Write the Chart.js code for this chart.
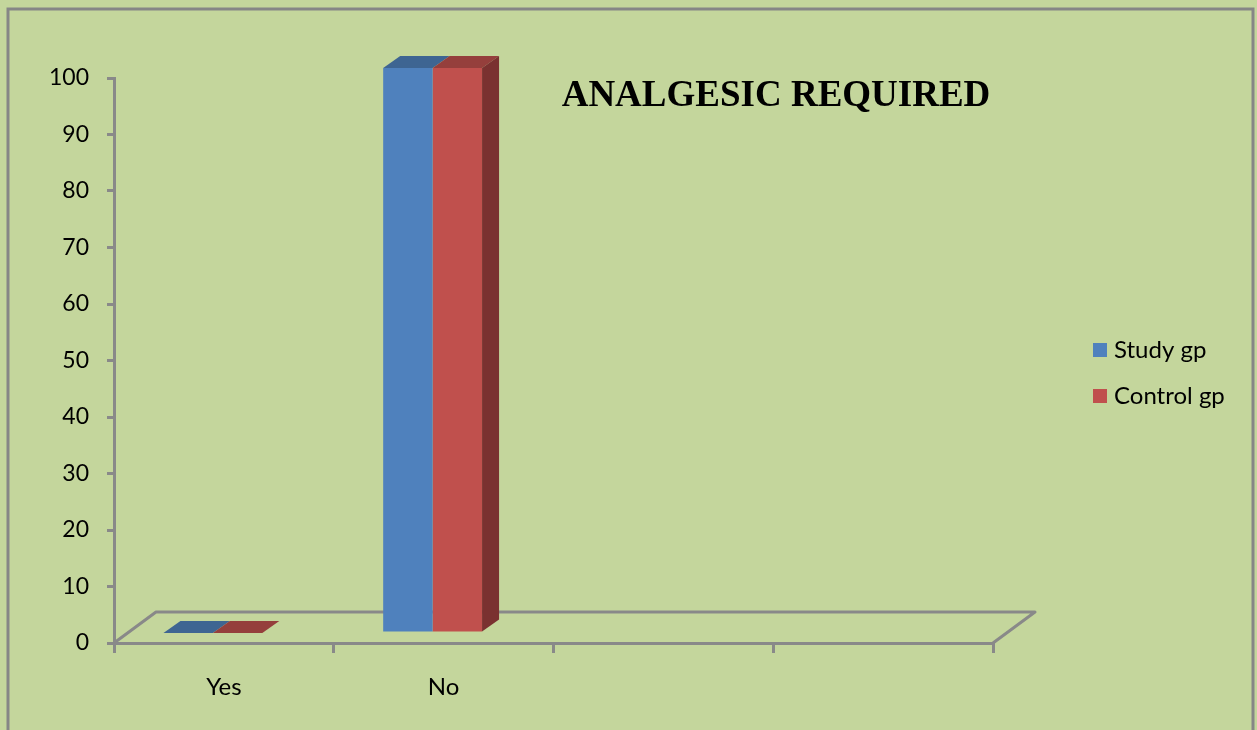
<!DOCTYPE html>
<html>
<head>
<meta charset="utf-8">
<script src="https://cdn.jsdelivr.net/npm/chart.js@4.4.1/dist/chart.umd.min.js"></script>
<style>
  html, body { margin: 0; padding: 0; background: #fff; }
  #wrap { width: 1257px; height: 730px; }
</style>
</head>
<body>
<div id="wrap"><canvas id="myChart" width="1257" height="730"></canvas></div>
<script>
// analgesic required, study vs control group
var categories = ['Yes', 'No', '', ''];
var studyGp = [0, 100, null, null];
var controlGp = [0, 100, null, null];
var seriesNames = ['Study gp', 'Control gp'];
var frontColors = ['#4F81BD', '#C0504D'];
var topColors = ['#3E6592', '#953F3C'];
var sideColor = '#7A3130';

var gray = '#898989';
var bg = '#C4D69C';

// bars sit a bit inside the floor, and have some depth
var barShift = { x: -11, y: -10 };
var depth = { x: 17, y: -12 };
var floorDepth = { x: 42, y: -31 };

var fake3d = {
  id: 'fake3d',
  beforeDraw: function (chart) {
    var ctx = chart.ctx;
    ctx.save();
    ctx.fillStyle = bg;
    ctx.fillRect(0, 0, chart.width, chart.height);
    ctx.strokeStyle = '#868686';
    ctx.lineWidth = 3;
    ctx.strokeRect(8, 9, 1245, 760);
    ctx.restore();
  },
  beforeDatasetsDraw: function (chart) {
    var ctx = chart.ctx;
    var a = chart.chartArea;
    ctx.save();
    ctx.strokeStyle = gray;
    ctx.lineWidth = 3;
    ctx.lineJoin = 'round';
    ctx.beginPath();
    ctx.moveTo(a.left, a.bottom);
    ctx.lineTo(a.left + floorDepth.x, a.bottom + floorDepth.y);
    ctx.lineTo(a.right + floorDepth.x, a.bottom + floorDepth.y);
    ctx.lineTo(a.right, a.bottom);
    ctx.stroke();
    ctx.restore();

    ctx.save();
    ctx.translate(barShift.x, barShift.y);
  },
  afterDatasetsDraw: function (chart) {
    var ctx = chart.ctx;
    var n = chart.data.datasets.length;
    for (var d = 0; d < n; d++) {
      var meta = chart.getDatasetMeta(d);
      var vals = chart.data.datasets[d].data;
      meta.data.forEach(function (el, i) {
        if (vals[i] === null) return;
        var x0 = el.x - el.width / 2, x1 = el.x + el.width / 2;
        var top = el.y, bot = el.base;
        ctx.fillStyle = topColors[d];
        ctx.beginPath();
        ctx.moveTo(x0, top);
        ctx.lineTo(x1, top);
        ctx.lineTo(x1 + depth.x, top + depth.y);
        ctx.lineTo(x0 + depth.x, top + depth.y);
        ctx.closePath();
        ctx.fill();
        if (d === n - 1 && bot - top > 0) {
          ctx.fillStyle = sideColor;
          ctx.beginPath();
          ctx.moveTo(x1, top);
          ctx.lineTo(x1 + depth.x, top + depth.y);
          ctx.lineTo(x1 + depth.x, bot + depth.y);
          ctx.lineTo(x1, bot);
          ctx.closePath();
          ctx.fill();
        }
      });
    }
    ctx.restore();

    // title
    ctx.save();
    ctx.fillStyle = '#000';
    ctx.font = 'bold 37px "Liberation Serif", "Times New Roman", serif';
    ctx.textAlign = 'center';
    ctx.textBaseline = 'alphabetic';
    ctx.fillText('ANALGESIC REQUIRED', 776, 106);

    // legend
    ctx.font = '24px Lato, sans-serif';
    ctx.textAlign = 'left';
    ctx.textBaseline = 'middle';
    for (var k = 0; k < n; k++) {
      var cy = 350 + k * 46;
      ctx.fillStyle = frontColors[k];
      ctx.fillRect(1093, cy - 7, 14, 14);
      ctx.fillStyle = '#000';
      ctx.fillText(chart.data.datasets[k].label, 1114, cy);
    }
    ctx.restore();
  }
};

var ctx = document.getElementById('myChart').getContext('2d');
var chart = new Chart(ctx, {
  type: 'bar',
  data: {
    labels: categories,
    datasets: [{
      label: seriesNames[0],
      backgroundColor: frontColors[0],
      data: studyGp,
      clip: false
    }, {
      label: seriesNames[1],
      backgroundColor: frontColors[1],
      data: controlGp,
      clip: false
    }]
  },
  options: {
    responsive: false,
    animation: false,
    layout: { padding: { left: 10, top: 78, right: 264, bottom: 0 } },
    datasets: { bar: { categoryPercentage: 0.45, barPercentage: 1 } },
    plugins: {
      legend: { display: false },
      tooltip: { enabled: false }
    },
    scales: {
      x: {
        afterFit: function (s) { s.height = 87; },
        grid: { drawOnChartArea: false, color: gray, lineWidth: 3, tickLength: 10, offset: true },
        border: { color: gray, width: 3 },
        ticks: { color: '#000', font: { family: 'Lato', size: 24 }, padding: 20, maxRotation: 0 }
      },
      y: {
        min: 0,
        max: 100,
        afterFit: function (s) { s.width = 104; },
        grid: { drawOnChartArea: false, color: gray, lineWidth: 3, tickLength: 7 },
        border: { color: gray, width: 3 },
        ticks: { stepSize: 10, color: '#000', font: { family: 'Lato', size: 23 }, padding: 18 }
      }
    }
  },
  plugins: [fake3d]
});
</script>
</body>
</html>
